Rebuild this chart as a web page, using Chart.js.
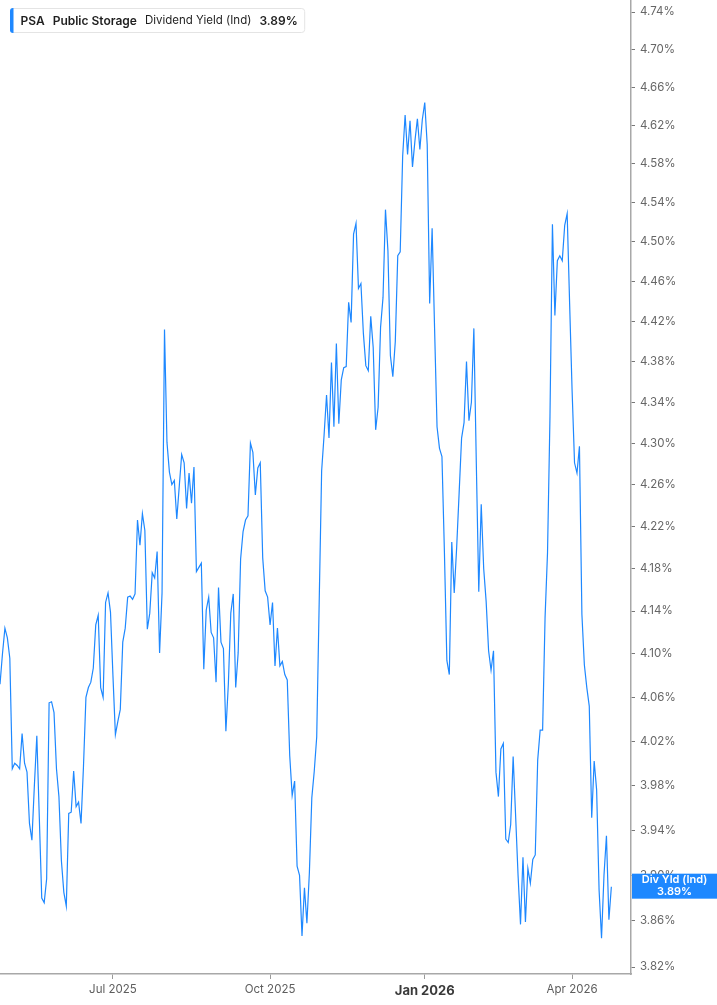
<!DOCTYPE html>
<html>
<head>
<meta charset="utf-8">
<title>PSA Dividend Yield</title>
<script src="https://cdn.jsdelivr.net/npm/chart.js@4.4.1/dist/chart.umd.min.js"></script>
<style>
  html, body { margin: 0; padding: 0; background: #ffffff; }
  #wrap { width: 717px; height: 1005px; position: relative; }
</style>
</head>
<body>
<div id="wrap"><canvas id="myChart"></canvas></div>
<script>
const ticker = 'PSA';
const company = 'Public Storage';
const metric = 'Dividend Yield (Ind)';
const badgeLabel = 'Div Yld (Ind)';

// daily dividend yield (%), one value per trading day, late Apr 2025 -> Apr 2026
const yieldValues = [
  4.072, 4.10, 4.124, 4.115, 4.096, 3.995, 4.0, 3.998, 3.995, 4.027, 4.0, 3.992,
  3.946, 3.931, 3.98, 4.025, 3.952, 3.88, 3.876, 3.897, 4.055, 4.056, 4.046, 3.995,
  3.97, 3.913, 3.885, 3.873, 3.955, 3.956, 3.993, 3.961, 3.965, 3.946, 3.997, 4.06,
  4.069, 4.074, 4.087, 4.127, 4.136, 4.069, 4.06, 4.148, 4.157, 4.139, 4.08, 4.026,
  4.038, 4.049, 4.111, 4.124, 4.153, 4.154, 4.151, 4.156, 4.226, 4.202, 4.232, 4.216,
  4.123, 4.138, 4.176, 4.171, 4.196, 4.101, 4.157, 4.412, 4.301, 4.272,
  4.26, 4.264, 4.227, 4.258, 4.289, 4.281, 4.237, 4.271, 4.242, 4.277, 4.177, 4.181,
  4.185, 4.086, 4.141, 4.153, 4.12, 4.115, 4.074, 4.162, 4.111, 4.105, 4.029, 4.072,
  4.138, 4.156, 4.069, 4.101, 4.189, 4.215,
  4.226, 4.23, 4.30, 4.291, 4.25, 4.276, 4.281, 4.19, 4.159, 4.153, 4.127, 4.148,
  4.089, 4.124, 4.089, 4.093, 4.081, 4.076, 4.007, 3.971, 3.984, 3.908, 3.90, 3.847,
  3.889, 3.858, 3.902, 3.969, 3.993, 4.024, 4.148, 4.273, 4.308,
  4.347, 4.305, 4.379, 4.316, 4.398, 4.319, 4.362, 4.374, 4.375, 4.439, 4.419, 4.508,
  4.519, 4.453, 4.458, 4.408, 4.376, 4.371, 4.425, 4.394, 4.313, 4.335, 4.414, 4.444,
  4.533, 4.491, 4.386, 4.365, 4.40, 4.486, 4.49,
  4.588, 4.631, 4.590, 4.625, 4.577, 4.604, 4.627, 4.595, 4.626, 4.644, 4.60, 4.438,
  4.514, 4.413, 4.316, 4.295, 4.287, 4.196, 4.094, 4.081, 4.205, 4.157, 4.20, 4.252,
  4.305, 4.32, 4.38, 4.322, 4.34, 4.413, 4.28, 4.158, 4.241,
  4.18, 4.149, 4.103, 4.085, 4.103, 3.992, 3.97, 4.013, 4.018, 3.932, 3.929, 3.945,
  4.006, 3.953, 3.90, 3.857, 3.916, 3.859, 3.906, 3.893, 3.914, 3.918, 4.003, 4.03,
  4.03, 4.134, 4.195, 4.326, 4.518, 4.426, 4.481, 4.486,
  4.481, 4.517, 4.529, 4.438, 4.352, 4.281, 4.271, 4.297, 4.137, 4.09, 4.069, 4.052,
  3.951, 4.002, 3.976, 3.887, 3.845, 3.90, 3.935, 3.861, 3.89
];

// trading-day index of the first session of each labelled month
const monthTicks = [46, 110, 173, 233];
const monthLabels = ['Jul 2025', 'Oct 2025', 'Jan 2026', 'Apr 2026'];

const yTicks = [
  3.82, 3.86, 3.90, 3.94, 3.98, 4.02, 4.06, 4.10, 4.14, 4.18, 4.22, 4.26,
  4.30, 4.34, 4.38, 4.42, 4.46, 4.50, 4.54, 4.58, 4.62, 4.66, 4.70, 4.74
];
const yMin = 3.8140;
const yMax = 4.7529;

const BLUE = '#1e88ff';
const FONT = 'Inter, "Noto Sans", sans-serif';

document.addEventListener('DOMContentLoaded', () => {
  const ctx = document.getElementById('myChart');
  const lastVal = yieldValues[yieldValues.length - 1];
  const lastTxt = lastVal.toFixed(2) + '%';

  // legend box top-left + value badge on the right axis
  const overlay = {
    id: 'overlay',
    afterDraw(chart) {
      const c = chart.ctx;
      c.save();
      const parts = [
        { t: ticker, f: '600 12px ' },
        { t: company, f: '600 12px ' },
        { t: metric, f: '400 11.5px ' },
        { t: lastTxt, f: '600 12px ' }
      ];
      const widths = parts.map(p => {
        c.font = p.f + FONT;
        return c.measureText(p.t).width;
      });
      const gap = 8;
      const total = widths.reduce((a, b) => a + b, 0) + gap * (parts.length - 1);
      c.fillStyle = '#ffffff';
      c.strokeStyle = '#e4e4e4';
      c.lineWidth = 1;
      c.beginPath();
      c.roundRect(10.5, 8.5, total + 17, 24, 3);
      c.fill();
      c.stroke();
      c.fillStyle = BLUE;
      c.beginPath();
      c.roundRect(10, 8, 3.5, 25, [3, 0, 0, 3]);
      c.fill();
      c.textBaseline = 'middle';
      c.fillStyle = '#1f1f1f';
      let x = 20.5;
      parts.forEach((p, i) => {
        c.font = p.f + FONT;
        c.fillText(p.t, x, 21);
        x += widths[i] + gap;
      });

      // last value badge
      const y = chart.scales.y.getPixelForValue(lastVal);
      const left = chart.chartArea.right + 1;
      c.fillStyle = BLUE;
      c.fillRect(left, y - 13, chart.width - left, 25);
      c.fillStyle = '#ffffff';
      c.textAlign = 'center';
      c.font = '600 11px ' + FONT;
      const cx = left + (chart.width - left) / 2;
      c.fillText(badgeLabel, cx, y - 6.5);
      c.fillText(lastTxt, cx, y + 5);
      c.restore();
    }
  };

  const data = {
    datasets: [{
      label: metric,
      data: yieldValues.map((v, i) => ({ x: i, y: v })),
      borderColor: BLUE,
      borderWidth: 1.2,
      pointRadius: 0,
      tension: 0,
      fill: false
    }]
  };

  const isJan = (c) => c.tick && monthLabels[monthTicks.indexOf(c.tick.value)] === 'Jan 2026';

  const config = {
    type: 'line',
    data: data,
    options: {
      responsive: true,
      maintainAspectRatio: false,
      animation: false,
      layout: { padding: 0 },
      plugins: {
        legend: { display: false },
        tooltip: { enabled: false }
      },
      scales: {
        x: {
          type: 'linear',
          min: 0,
          max: 257,
          afterBuildTicks: (scale) => {
            scale.ticks = monthTicks.map(v => ({ value: v }));
          },
          afterFit: (scale) => {
            scale.height = 31;
            scale.paddingLeft = 0;
            scale.paddingRight = 0;
          },
          grid: {
            display: true,
            drawOnChartArea: false,
            drawTicks: true,
            tickLength: 5,
            tickColor: '#9a9a9a'
          },
          border: { display: true, color: '#a8a8a8', width: 1.5 },
          ticks: {
            autoSkip: false,
            maxRotation: 0,
            padding: 4,
            callback: (v) => monthLabels[monthTicks.indexOf(v)],
            color: (c) => isJan(c) ? '#3a3a3a' : '#5e5e5e',
            font: (c) => isJan(c)
              ? { family: FONT, size: 13, weight: '700' }
              : { family: FONT, size: 11.5, weight: '400' }
          }
        },
        y: {
          type: 'logarithmic',
          position: 'right',
          min: yMin,
          max: yMax,
          bounds: 'data',
          afterBuildTicks: (scale) => {
            scale.ticks = yTicks.map(v => ({ value: v }));
            scale.min = yMin;
            scale.max = yMax;
          },
          afterFit: (scale) => {
            scale.width = 86;
            scale.paddingTop = 0;
            scale.paddingBottom = 0;
          },
          grid: {
            display: true,
            drawOnChartArea: false,
            drawTicks: true,
            tickLength: 4,
            tickColor: '#777777'
          },
          border: { display: true, color: '#a8a8a8', width: 1.5 },
          ticks: {
            autoSkip: false,
            padding: 5,
            color: '#666666',
            font: { family: FONT, size: 11.5 },
            callback: (v) => Number(v).toFixed(2) + '%'
          }
        }
      }
    },
    plugins: [overlay]
  };

  const myChart = new Chart(ctx, config);
});
</script>
</body>
</html>
